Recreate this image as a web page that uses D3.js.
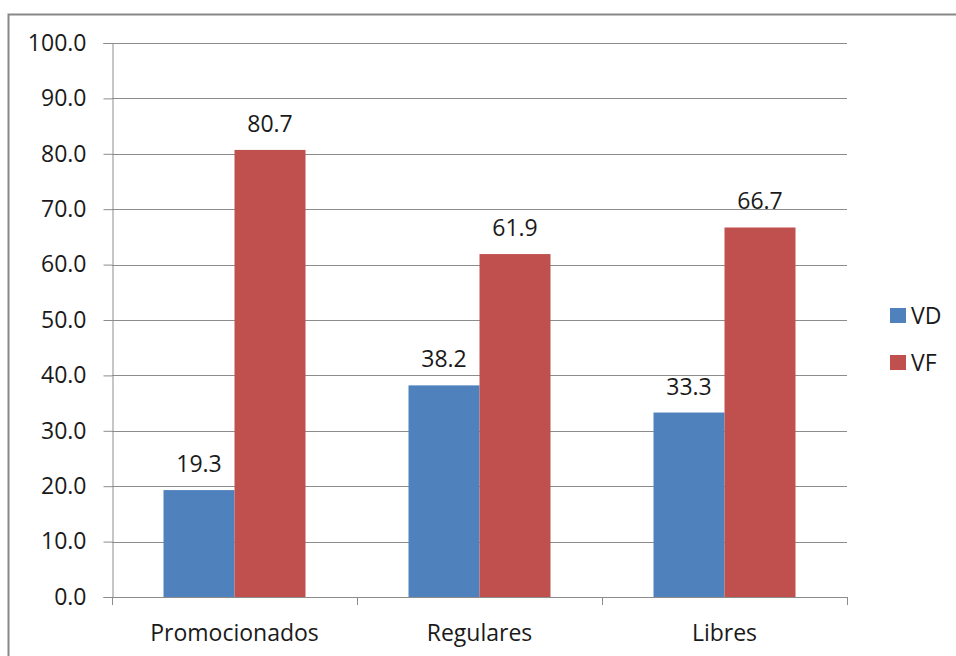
<!DOCTYPE html>
<html>
<head>
<meta charset="utf-8">
<script src="https://cdn.jsdelivr.net/npm/d3@7"></script>
<style>
  html, body { margin: 0; padding: 0; background: #fff; }
  svg { display: block; }
  text { font-family: "Open Sans", "Noto Sans", sans-serif; fill: #1a1a1a; }
</style>
</head>
<body>
<script>
// Categories, series and their values
const categories = ["Promocionados", "Regulares", "Libres"];
const seriesNames = ["VD", "VF"];
const vdValues = [19.3, 38.2, 33.3];
const vfValues = [80.7, 61.9, 66.7];
const yTicks = [0, 10, 20, 30, 40, 50, 60, 70, 80, 90, 100];
const seriesColors = ["#4F81BD", "#C0504D"];

const W = 956, H = 656;
const FONT = "'Open Sans', 'Noto Sans', sans-serif";
const FS = "23px";
const svg = d3.select("body").append("svg").attr("width", W).attr("height", H);

// Outer chart frame
svg.append("rect")
  .attr("x", 8.5).attr("y", 14.5)
  .attr("width", W + 10).attr("height", H + 10)
  .attr("fill", "none").attr("stroke", "#888").attr("stroke-width", 2);

const plot = { left: 112, right: 847, top: 43, bottom: 597 };

const x0 = d3.scaleBand().domain(categories)
  .range([plot.left, plot.right]);
const x1 = d3.scaleBand().domain(seriesNames).range([0, 142]);
const y = d3.scaleLinear().domain([0, 100]).range([plot.bottom, plot.top]);

// Horizontal gridlines
svg.append("g").selectAll("line").data(yTicks.filter(d => d > 0)).join("line")
  .attr("x1", plot.left).attr("x2", plot.right)
  .attr("y1", d => Math.round(y(d)) + 0.5).attr("y2", d => Math.round(y(d)) + 0.5)
  .attr("stroke", "#8c8c8c").attr("stroke-width", 1);

// Y axis
const yAxis = svg.append("g")
  .attr("transform", `translate(${plot.left + 0.5},0)`)
  .call(d3.axisLeft(y).tickValues(yTicks).tickFormat(d3.format(".1f")).tickSize(9).tickPadding(17));
yAxis.select(".domain").attr("stroke", "#8c8c8c");
yAxis.selectAll(".tick line").attr("stroke", "#8c8c8c");
yAxis.selectAll(".tick text")
  .style("font-family", FONT)
  .style("font-size", FS).attr("fill", "#1a1a1a");

// Bars with value labels
const groups = svg.append("g").selectAll("g").data(categories).join("g")
  .attr("transform", d => `translate(${x0(d) + (x0.bandwidth() - 142) / 2},0)`);

groups.each(function (c, i) {
  const g = d3.select(this);
  const data = [
    { s: "VD", v: vdValues[i] },
    { s: "VF", v: vfValues[i] }
  ];
  g.selectAll("rect").data(data).join("rect")
    .attr("x", d => x1(d.s))
    .attr("width", x1.bandwidth())
    .attr("y", d => y(d.v))
    .attr("height", d => y(0) - y(d.v))
    .attr("fill", d => seriesColors[seriesNames.indexOf(d.s)]);
  g.selectAll("text").data(data).join("text")
    .attr("x", d => x1(d.s) + x1.bandwidth() / 2)
    .attr("y", d => y(d.v) - 18)
    .attr("text-anchor", "middle")
    .style("font-size", FS)
    .text(d => d3.format(".1f")(d.v));
});

// X axis line, category boundary ticks and labels
svg.append("line")
  .attr("x1", plot.left).attr("x2", plot.right + 0.5)
  .attr("y1", plot.bottom + 0.5).attr("y2", plot.bottom + 0.5)
  .attr("stroke", "#8c8c8c");
const bounds = [plot.left, ...categories.map(c => x0(c) + x0.bandwidth())];
svg.append("g").selectAll("line").data(bounds).join("line")
  .attr("x1", d => Math.round(d) + 0.5).attr("x2", d => Math.round(d) + 0.5)
  .attr("y1", plot.bottom).attr("y2", plot.bottom + 8)
  .attr("stroke", "#8c8c8c");
svg.append("g").selectAll("text").data(categories).join("text")
  .attr("x", d => x0(d) + x0.bandwidth() / 2)
  .attr("y", 641)
  .attr("text-anchor", "middle")
  .style("font-size", FS)
  .text(d => d);

// Legend
const legend = svg.append("g").selectAll("g").data(seriesNames).join("g")
  .attr("transform", (d, i) => `translate(890,${308 + i * 47})`);
legend.append("rect")
  .attr("width", 16).attr("height", 15)
  .attr("fill", (d, i) => seriesColors[i]);
legend.append("text")
  .attr("x", 21).attr("y", 15.5)
  .style("font-size", FS)
  .text(d => d);
</script>
</body>
</html>
